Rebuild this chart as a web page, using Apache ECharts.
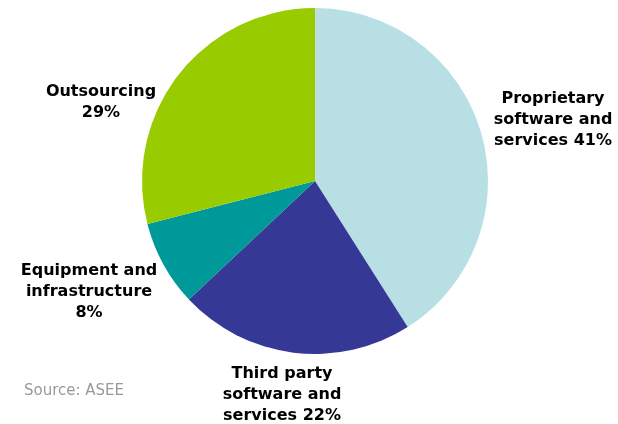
<!DOCTYPE html>
<html>
<head>
<meta charset="utf-8">
<style>
  html, body { margin: 0; padding: 0; background: #ffffff; }
  #chart { width: 618px; height: 424px; }
</style>
<script src="https://cdn.jsdelivr.net/npm/echarts@6/dist/echarts.min.js"></script>
</head>
<body>
<div id="chart"></div>
<script>
// Spending breakdown (share of total, %)
const categories = [
  'Proprietary software and services',
  'Third party software and services',
  'Equipment and infrastructure',
  'Outsourcing'
];
const shares = [41, 22, 8, 29];
const labelLines = [
  ['Proprietary', 'software and', 'services'],
  ['Third party', 'software and', 'services'],
  ['Equipment and', 'infrastructure', ''],
  ['Outsourcing', '']
];
const colors = ['#b8e0e4', '#363896', '#009999', '#99cc00'];

// label anchors (centre of each text block), in px
const labelAnchors = [
  [553, 120],
  [282, 395],
  [89, 292],
  [101, 102]
];

const chart = echarts.init(document.getElementById('chart'), null, { renderer: 'canvas' });

function labelText(i) {
  const lines = labelLines[i].slice();
  const last = lines.length - 1;
  lines[last] = (lines[last] ? lines[last] + ' ' : '') + shares[i] + '%';
  return lines.join('\n');
}

chart.setOption({
  animation: false,
  backgroundColor: '#ffffff',
  color: colors,
  graphic: [{
    type: 'text',
    left: 24,
    top: 384,
    style: {
      text: 'Source: ASEE',
      fill: '#999999',
      font: '15px "DejaVu Sans", Verdana, sans-serif'
    }
  }],
  series: [{
    type: 'pie',
    center: [315, 181],
    radius: 173,
    startAngle: 90,
    clockwise: true,
    avoidLabelOverlap: false,
    itemStyle: { borderWidth: 0 },
    emphasis: { disabled: true },
    label: {
      show: true,
      position: 'outside',
      formatter: p => labelText(p.dataIndex),
      color: '#000000',
      fontFamily: '"DejaVu Sans", Verdana, sans-serif',
      fontWeight: 'bold',
      fontSize: 16,
      lineHeight: 21,
      align: 'center'
    },
    labelLine: { show: false },
    labelLayout: params => ({
      x: labelAnchors[params.dataIndex][0],
      y: labelAnchors[params.dataIndex][1],
      align: 'center',
      verticalAlign: 'middle'
    }),
    data: categories.map((name, i) => ({ name: name, value: shares[i] }))
  }]
});
</script>
</body>
</html>
